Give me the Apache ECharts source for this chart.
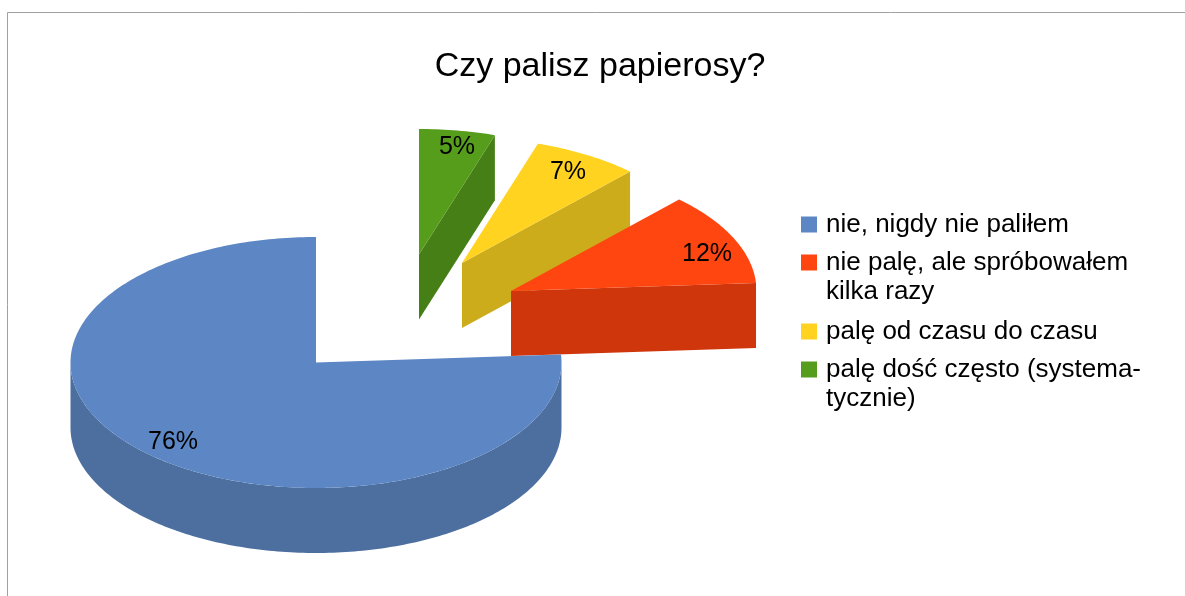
<!DOCTYPE html>
<html><head><meta charset="utf-8">
<style>html,body{margin:0;padding:0;background:#fff}#c{width:1185px;height:596px}</style>
<script src="https://cdn.jsdelivr.net/npm/echarts@6/dist/echarts.min.js"></script>
</head><body><div id="c"></div>
<script>
const titleText = 'Czy palisz papierosy?';
const categories = ['nie, nigdy nie paliłem', 'nie palę, ale spróbowałem\nkilka razy', 'palę od czasu do czasu', 'palę dość często (systema-\ntycznie)'];
const values = [76, 12, 7, 5];

const topColors = ['#5c86c4', '#ff4510', '#ffd320', '#579d1c'];
const sideColors = ['#4c6fa0', '#cf360b', '#cdac1b', '#467f16'];
const explodeOffsets = [[0, 0], [195, -71.5], [146, -99.5], [103, -108]];
const labelOffsets = [[-143, 80], [196, -37], [106, -91], [38, -107]];
const legendTops = [205, 214, 312, 321];
const pie = { cx: 316, cy: 362.5, rx: 245.5, ry: 125.5, depth: 65, startDeg: 90 };
const FONT = '"Liberation Sans", Arial, sans-serif';

const total = values.reduce((a, b) => a + b, 0);
const starts = [];
values.reduce((acc, v, i) => { starts[i] = acc; return acc + v; }, 0);

function pt(ox, oy, deg) {
  const r = deg * Math.PI / 180;
  return [ox + pie.rx * Math.cos(r), oy - pie.ry * Math.sin(r)];
}
function arc(ox, oy, a, b) {
  const n = Math.max(2, Math.ceil(Math.abs(b - a)));
  const out = [];
  for (let i = 0; i <= n; i++) out.push(pt(ox, oy, a + (b - a) * i / n));
  return out;
}
const down = p => [p[0], p[1] + pie.depth];

function renderSlice(i) {
  return function (params, api) {
    const sweep = api.value(0) / total * 360;
    const a0 = pie.startDeg + starts[i] / total * 360;
    const a1 = a0 + sweep;
    const ox = pie.cx + explodeOffsets[i][0];
    const oy = pie.cy + explodeOffsets[i][1];
    const children = [];
    // outer wall: the part of the rim that faces the viewer
    const lo = Math.max(a0, 180), hi = Math.min(a1, 360);
    if (hi > lo) {
      const rim = arc(ox, oy, lo, hi);
      children.push({ type: 'polygon', shape: { points: rim.concat(rim.slice().reverse().map(down)) }, style: { fill: sideColors[i] } });
    }
    // cut face at the start of the slice
    const rad = a0 * Math.PI / 180;
    if (Math.cos(rad) > 1e-6 && Math.sin(rad) > 0) {
      const e = pt(ox, oy, a0), c = [ox, oy];
      children.push({ type: 'polygon', shape: { points: [c, e, down(e), down(c)] }, style: { fill: sideColors[i] } });
    }
    // top face
    children.push({ type: 'polygon', shape: { points: [[ox, oy]].concat(arc(ox, oy, a0, a1)) }, style: { fill: topColors[i] } });
    children.push({
      type: 'text',
      style: {
        x: ox + labelOffsets[i][0], y: oy + labelOffsets[i][1],
        text: api.value(0) + '%', fill: '#000', font: '25px ' + FONT, align: 'center', verticalAlign: 'middle'
      }
    });
    return { type: 'group', children };
  };
}

const order = [3, 2, 1, 0];
const chart = echarts.init(document.getElementById('c'), null, { renderer: 'canvas' });
chart.setOption({
  animation: false,
  backgroundColor: '#fff',
  title: {
    text: titleText, left: 595, top: 45, textAlign: 'center',
    textStyle: { fontFamily: FONT, fontSize: 34, fontWeight: 'normal', color: '#000' }
  },
  legend: categories.map((c, i) => ({
    data: [c], orient: 'vertical', left: 796, top: legendTops[i],
    selectedMode: false, icon: 'rect', itemWidth: 16, itemHeight: 16, itemGap: 0,
    formatter: n => c.includes('\n') ? '\n' + n : n,
    textStyle: { fontFamily: FONT, fontSize: 26, lineHeight: 29, color: '#000', padding: [0, 0, 0, 4] }
  })),
  graphic: [
    { type: 'line', silent: true, shape: { x1: 7.5, y1: 12.5, x2: 1185, y2: 12.5 }, style: { stroke: '#a0a0a0', lineWidth: 1 } },
    { type: 'line', silent: true, shape: { x1: 7.5, y1: 12.5, x2: 7.5, y2: 596 }, style: { stroke: '#a0a0a0', lineWidth: 1 } }
  ],
  series: order.map((i, k) => ({
    type: 'custom', name: categories[i], coordinateSystem: 'none', silent: true,
    z: 2 + k,
    itemStyle: { color: topColors[i] },
    data: [[values[i]]],
    renderItem: renderSlice(i)
  }))
});
</script></body></html>
